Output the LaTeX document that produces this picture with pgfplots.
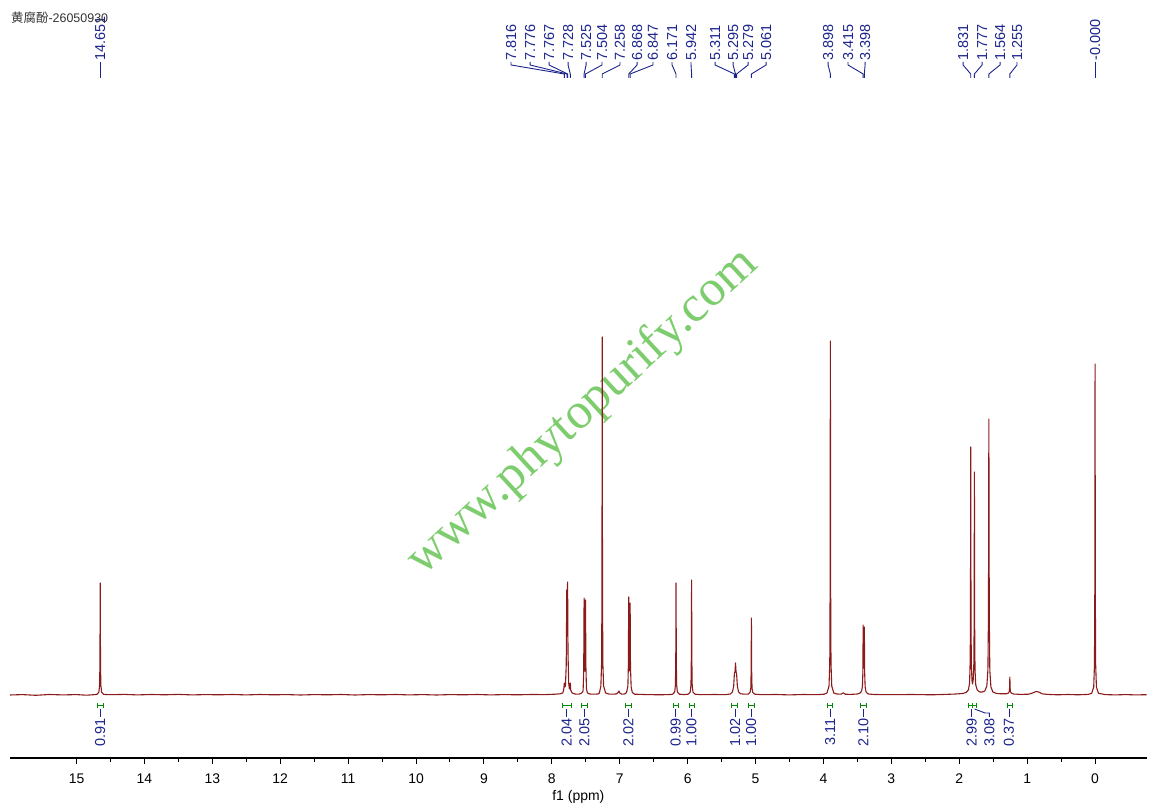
\documentclass[border=0pt]{standalone}
\usepackage{fontspec}
\setmainfont{Liberation Sans}
\newfontfamily\cjk{Noto Sans CJK SC}
\newfontfamily\wmfont{Liberation Serif}
\usepackage{pgfplots}
\pgfplotsset{compat=1.18}

\definecolor{spec}{RGB}{139,26,26}
\definecolor{lblblue}{RGB}{28,36,140}
\definecolor{intgreen}{RGB}{0,140,0}
\definecolor{wmgreen}{RGB}{125,205,110}

\tikzset{
  lbl/.style={draw=lblblue, text=lblblue, line width=0.9bp,
    font=\fontsize{14.5}{16}\selectfont},
  intg/.style={draw=intgreen, line width=1bp},
}

% peak label: label x, peak x, text
\newcommand{\plabel}[3]{%
  \draw[lbl] (axis cs:#1,633) -- (axis cs:#1,630) -- (axis cs:#2,621) -- (axis cs:#2,617);
  \node[lbl, draw=none, rotate=90, anchor=west, inner sep=0pt] at (axis cs:#1,634) {#3};}

% integral: from, to, label x, text
\newcommand{\integ}[4]{%
  \draw[intg] (axis cs:#1,-8.5) -- (axis cs:#1,-13.5) (axis cs:#1,-11) -- (axis cs:#2,-11)
    (axis cs:#2,-8.5) -- (axis cs:#2,-13.5);
  \draw[lbl] (axis cs:#3,-14) -- (axis cs:#3,-22);
  \node[lbl, draw=none, rotate=90, anchor=east, inner sep=0pt] at (axis cs:#3,-23) {#4};}

\begin{document}
\begin{tikzpicture}
\path[use as bounding box] (0bp,0bp) rectangle (1154bp,811bp);

\node[rotate=42.7, anchor=base, inner sep=0pt, text=wmgreen,
  font=\wmfont\fontsize{51}{51}\selectfont] at (591.5bp,389.5bp) {www.phytopurify.com};

\begin{axis}[
  at={(10bp,53bp)}, anchor=south west,
  scale only axis, width=1136.7bp, height=758bp,
  x dir=reverse, xmin=-0.76, xmax=15.98,
  ymin=-63, ymax=695,
  axis x line*=bottom, axis y line=none,
  xtick={0,...,15}, minor x tick num=1,
  tick align=outside, major tick length=6bp, minor tick length=3.5bp,
  tick style={black, line width=1bp},
  axis line style={black, line width=1.2bp},
  xticklabel style={font=\fontsize{14}{16}\selectfont, yshift=-6bp},
  /pgf/number format/assume math mode=true,
  xlabel={f1 (ppm)},
  xlabel style={font=\fontsize{14}{16}\selectfont},
  clip=false,
]
\addplot[spec, line width=1.1bp, line join=round] table {
15.98 0
15.80 0.4
15.60 -0.3
15.40 0.5
15.20 0.1
15.00 0.4
14.85 -0.2
14.75 0.3
14.70 0.6
14.671 2.8
14.660 10
14.655 34
14.651 112
14.647 34
14.642 10
14.631 2.8
14.60 0.6
14.50 0.3
14.30 0.6
14.10 0.1
13.90 0.5
13.70 0.2
13.50 0.6
13.30 0.1
13.10 0.4
12.90 0.2
12.70 0.5
12.50 0.1
12.30 0.5
12.10 0.2
11.90 0.4
11.70 0
11.50 0.4
11.30 0.2
11.10 0.5
10.90 0
10.70 0.4
10.50 0.2
10.30 0.5
10.10 0.1
9.90 0.4
9.70 0
9.50 0.4
9.30 0.2
9.10 0.5
8.90 0.1
8.70 0.4
8.50 0.2
8.30 0.5
8.10 0.4
7.95 0.8
7.88 1.2
7.84 2
7.826 5
7.820 9
7.816 12
7.811 8
7.800 9
7.788 30
7.780 105
7.774 98
7.768 113
7.762 42
7.752 12
7.742 6
7.734 8
7.728 12
7.722 5
7.70 2
7.66 1
7.60 0.8
7.56 2
7.540 4
7.531 22
7.525 97
7.520 35
7.5145 24
7.509 35
7.504 95
7.499 30
7.490 6
7.475 2
7.44 1
7.40 0.8
7.32 1
7.300 2
7.278 9
7.267 32
7.262 107
7.258 358
7.254 107
7.249 32
7.238 9
7.208 2
7.15 0.8
7.05 1
7.025 2.5
7.012 4
7.000 2
6.97 0.8
6.93 1
6.900 2.5
6.880 9
6.873 30
6.868 98
6.863 33
6.8575 24
6.852 31
6.847 92
6.842 28
6.832 8
6.815 2.5
6.78 0.8
6.60 0.4
6.40 0.2
6.25 0.5
6.221 0.8
6.191 3
6.180 10
6.175 34
6.171 112
6.167 34
6.162 10
6.151 3
6.121 0.8
6.05 0.4
5.992 0.8
5.962 3
5.951 10
5.946 35
5.942 115
5.938 35
5.933 10
5.922 3
5.892 0.8
5.80 0.3
5.60 0.5
5.45 0.3
5.37 1
5.34 3
5.322 9
5.311 22
5.303 23
5.295 32
5.287 23
5.279 21
5.268 9
5.25 3
5.22 1.2
5.16 0.8
5.111 0.8
5.081 2.5
5.070 7
5.065 23
5.061 77
5.057 23
5.052 7
5.041 2.5
5.011 0.8
4.90 0.3
4.70 0.5
4.50 0.1
4.30 0.5
4.10 0.3
3.99 0.8
3.948 2
3.918 9
3.907 32
3.902 106
3.898 354
3.894 106
3.889 32
3.878 9
3.848 2
3.80 1
3.74 0.8
3.71 2.2
3.68 0.8
3.60 0.6
3.50 1
3.46 2
3.438 4
3.426 9
3.420 22
3.415 70
3.410 32
3.4065 27
3.403 32
3.398 68
3.393 22
3.386 8
3.372 3
3.34 1
3.25 0.5
3.00 0.3
2.70 0.5
2.40 0.2
2.20 0.6
2.05 1
1.95 1.5
1.90 2.5
1.865 5
1.848 12
1.839 35
1.835 75
1.831 248
1.827 75
1.822 30
1.812 14
1.804 11
1.795 15
1.786 30
1.781 68
1.777 223
1.773 68
1.768 25
1.757 10
1.735 5
1.70 3
1.66 3
1.624 4
1.594 9
1.578 25
1.570 80
1.564 276
1.558 80
1.550 25
1.534 8
1.504 3
1.45 1.5
1.38 1.2
1.305 1.2
1.275 2
1.264 3.5
1.259 7
1.255 18
1.251 7
1.246 3.5
1.235 2
1.205 1
1.10 0.6
0.98 0.8
0.92 2
0.87 3.5
0.83 3
0.78 1.2
0.70 0.6
0.55 0.2
0.40 0.5
0.25 0.2
0.10 0.6
0.050 1.7
0.020 8
0.009 30
0.004 99
0.000 331
-0.004 99
-0.009 30
-0.020 8
-0.050 1.7
-0.15 0.4
-0.30 0.1
-0.45 0.4
-0.60 0.1
-0.76 0.3
};

% peak picking labels
\plabel{14.651}{14.651}{14.651}
\plabel{8.601}{7.816}{7.816}
\plabel{8.321}{7.776}{7.776}
\plabel{8.041}{7.767}{7.767}
\plabel{7.761}{7.728}{7.728}
\plabel{7.496}{7.525}{7.525}
\plabel{7.261}{7.504}{7.504}
\plabel{6.996}{7.258}{7.258}
\plabel{6.745}{6.868}{6.868}
\plabel{6.510}{6.847}{6.847}
\plabel{6.230}{6.171}{6.171}
\plabel{5.950}{5.942}{5.942}
\plabel{5.596}{5.311}{5.311}
\plabel{5.331}{5.295}{5.295}
\plabel{5.110}{5.279}{5.279}
\plabel{4.845}{5.061}{5.061}
\plabel{3.932}{3.898}{3.898}
\plabel{3.638}{3.415}{3.415}
\plabel{3.387}{3.398}{3.398}
\plabel{1.944}{1.831}{1.831}
\plabel{1.664}{1.777}{1.777}
\plabel{1.399}{1.564}{1.564}
\plabel{1.149}{1.255}{1.255}
\plabel{0.000}{0.000}{-0.000}

% integrals
\integ{14.69}{14.61}{14.651}{0.91}
\integ{7.84}{7.71}{7.781}{2.04}
\integ{7.56}{7.48}{7.521}{2.05}
\integ{6.91}{6.83}{6.873}{2.02}
\integ{6.21}{6.13}{6.178}{0.99}
\integ{5.98}{5.90}{5.946}{1.00}
\integ{5.35}{5.26}{5.302}{1.02}
\integ{5.10}{5.02}{5.066}{1.00}
\integ{3.94}{3.86}{3.903}{3.11}
\integ{3.45}{3.36}{3.412}{2.10}
\integ{1.86}{1.80}{1.816}{2.99}
\integ{1.29}{1.22}{1.268}{0.37}
\draw[intg] (axis cs:1.80,-8.5) -- (axis cs:1.80,-13.5) (axis cs:1.80,-11) -- (axis cs:1.75,-11)
  (axis cs:1.75,-8.5) -- (axis cs:1.75,-13.5);
\draw[lbl] (axis cs:1.775,-14) -- (axis cs:1.62,-18) -- (axis cs:1.557,-18) -- (axis cs:1.557,-22);
\node[lbl, draw=none, rotate=90, anchor=east, inner sep=0pt] at (axis cs:1.557,-23) {3.08};
\end{axis}

\node[anchor=base west, inner sep=0pt, text=black!80,
  font=\fontsize{12.5}{14}\selectfont] at (11bp,788bp) {{\cjk 黄腐酚}-26050930};
\end{tikzpicture}
\end{document}
